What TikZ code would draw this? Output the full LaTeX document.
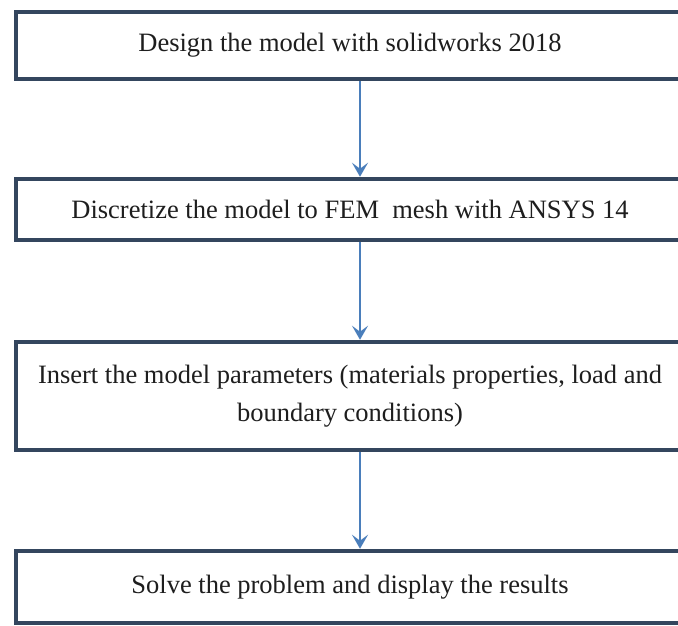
\documentclass[tikz,border=0pt]{standalone}
\usepackage{fontspec}
\setmainfont{Liberation Serif}
\usetikzlibrary{arrows.meta}
\definecolor{boxline}{HTML}{34465E}
\definecolor{arrowblue}{HTML}{4A7EBB}
\definecolor{txt}{HTML}{1E1E1E}
\begin{document}
\begin{tikzpicture}[x=1pt,y=1pt,
  stepbox/.style={draw=boxline, line width=4.5pt, rectangle, minimum width=668pt, inner sep=0pt,
    align=center, text=txt, font=\fontsize{26.5}{38}\selectfont},
  flow/.style={draw=arrowblue, line width=2.2pt, -{Stealth[length=14pt,width=16pt,inset=6pt]}}]
\useasboundingbox (0,0) rectangle (678,-625);
\fill[white] (0,0) rectangle (678,-625);
\node[stepbox, minimum height=67pt] (b1) at (350,-45.5) {Design the model with solidworks 2018};
\node[stepbox, minimum height=61pt] (b2) at (350,-209.5) {Discretize the model to FEM\ \ mesh with ANSYS 14};
\node[stepbox, minimum height=108pt] (b3) at (350,-396) {Insert the model parameters (materials properties, load and\\boundary conditions)};
\node[stepbox, minimum height=72pt] (b4) at (350,-587) {Solve the problem and display the results};
\coordinate (a1s) at (360,-79);
\draw[flow] (b1.south -| a1s) -- (b2.north -| a1s);
\draw[flow] (b2.south -| a1s) -- (b3.north -| a1s);
\draw[flow] (b3.south -| a1s) -- (b4.north -| a1s);
\end{tikzpicture}
\end{document}
